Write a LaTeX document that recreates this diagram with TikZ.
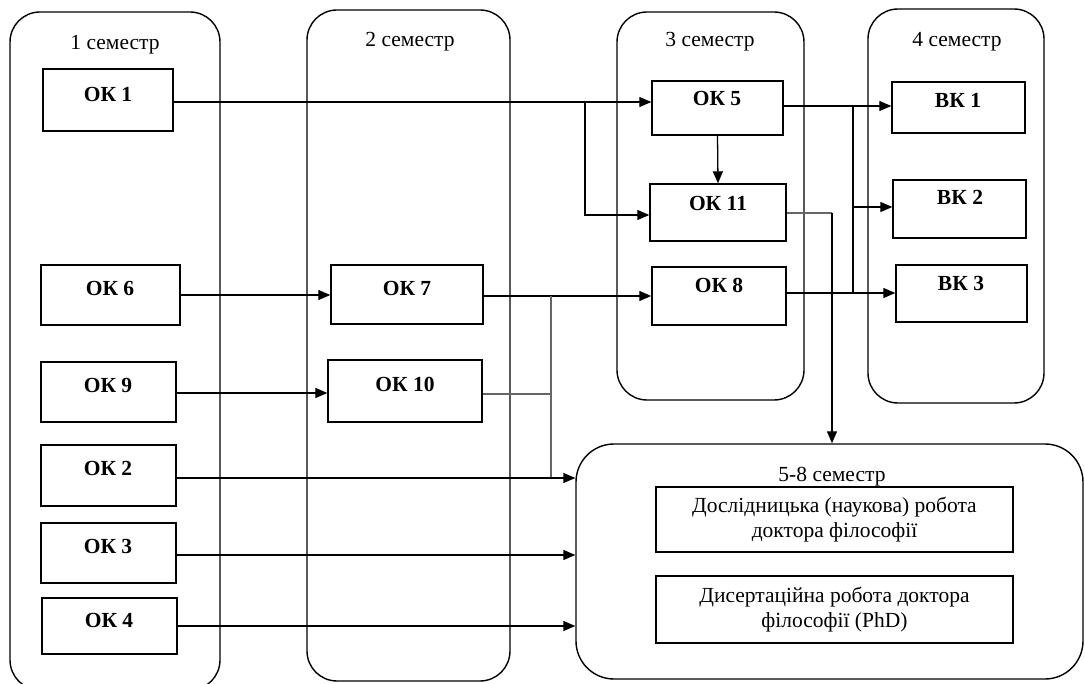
\documentclass[tikz,border=0pt]{standalone}
\usepackage{fontspec}
\setmainfont{Liberation Serif}
\usetikzlibrary{arrows.meta}
\begin{document}
\begin{tikzpicture}[x=1pt,y=-1pt,
  col/.style={draw, line width=1.4pt, rounded corners=30pt, inner sep=0pt},
  box/.style={draw, line width=1.4pt, inner sep=0pt},
  lbl/.style={anchor=base, inner sep=0pt, font=\fontsize{21.5}{25}\selectfont\bfseries},
  ttl/.style={anchor=base, inner sep=0pt, font=\fontsize{21.5}{25}\selectfont},
  txtbox/.style={box, align=center, font=\fontsize{21.5}{25}\selectfont},
  arr/.style={line width=1.3pt, -{Triangle[length=12pt,width=10pt]}},
  ln/.style={line width=1.3pt},
  gln/.style={line width=1.2pt, draw=black!60},
]
\useasboundingbox (0,0) rectangle (1085,684);

% semester columns
\node[col, minimum width=210, minimum height=678] (s1) at (115,351) {};
\node[col, minimum width=203, minimum height=671] (s2) at (408.5,345.5) {};
\node[col, minimum width=187, minimum height=388] (s3) at (710.5,206) {};
\node[col, minimum width=176, minimum height=394] (s4) at (956,206) {};
\node[col, rounded corners=38pt, minimum width=507, minimum height=235] (s58) at (829.5,561.5) {};

\node[ttl] (t1) at (115,50) {1 семестр};
\node[ttl] (t2) at (410,47) {2 семестр};
\node[ttl] (t3) at (710,47) {3 семестр};
\node[ttl] (t4) at (957,47) {4 семестр};
\node[ttl] (t58) at (832,482) {5-8 семестр};

% boxes
\node[box, minimum width=130, minimum height=62] (ok1) at (108,100) {};
\node[box, minimum width=139, minimum height=60] (ok6) at (110.5,295) {};
\node[box, minimum width=135, minimum height=60] (ok9) at (108.5,392) {};
\node[box, minimum width=135, minimum height=61] (ok2) at (108.5,475.5) {};
\node[box, minimum width=135, minimum height=60] (ok3) at (108.5,553) {};
\node[box, minimum width=135, minimum height=56] (ok4) at (109.5,626) {};
\node[box, minimum width=152, minimum height=59] (ok7) at (407,294.5) {};
\node[box, minimum width=154, minimum height=62] (ok10) at (405,391) {};
\node[box, minimum width=131, minimum height=54] (ok5) at (717.5,108) {};
\node[box, minimum width=136, minimum height=57] (ok11) at (718,212.5) {};
\node[box, minimum width=134, minimum height=58] (ok8) at (719,296) {};
\node[box, minimum width=133, minimum height=51] (vk1) at (958.5,107.5) {};
\node[box, minimum width=133, minimum height=58] (vk2) at (959.5,209) {};
\node[box, minimum width=131, minimum height=57] (vk3) at (961.5,293.5) {};
\node[txtbox, minimum width=357, minimum height=65] (d1) at (834.5,519.5) {Дослідницька (наукова) робота\\доктора філософії};
\node[txtbox, minimum width=357, minimum height=67] (d2) at (834.5,609.5) {Дисертаційна робота доктора\\філософії (PhD)};

% box labels
\node[lbl] at (108,102) {ОК 1};
\node[lbl] at (110,296) {ОК 6};
\node[lbl] at (108,393) {ОК 9};
\node[lbl] at (108,476) {ОК 2};
\node[lbl] at (108,553) {ОК 3};
\node[lbl] at (109,627) {ОК 4};
\node[lbl] at (407,296) {ОК 7};
\node[lbl] at (405,392) {ОК 10};
\node[lbl] at (717,106) {ОК 5};
\node[lbl] at (718,211) {ОК 11};
\node[lbl] at (719,293) {ОК 8};
\node[lbl] at (958,108) {ВК 1};
\node[lbl] at (960,205) {ВК 2};
\node[lbl] at (961,291) {ВК 3};

% junction points
\coordinate (j1) at (585,102);
\coordinate (j2) at (853,106);
\coordinate (j3) at (853,293);
\coordinate (j4) at (551,296);
\coordinate (j5) at (551,478);
\coordinate (j6) at (832,213);

% connectors
\draw[arr] (ok1.east |- j1) -- (ok5.west |- j1);
\draw[arr] (j1) |- (ok11.west |- 0,215);
\draw[arr] (ok5.south) -- (ok11.north);
\draw[arr] (ok5.east |- j2) -- (vk1.west |- j2);
\draw[ln] (j2) -- (j3);
\draw[arr] (j2 |- 0,207) -- (vk2.west |- 0,207);
\draw[arr] (ok8.east |- j3) -- (vk3.west |- j3);
\draw[gln] (ok11.east |- j6) -- (j6);
\draw[arr] (j6) -- (j6 |- s58.north);
\draw[arr] (ok6.east |- 0,295) -- (ok7.west |- 0,295);
\draw[arr] (ok9.east |- 0,393) -- (ok10.west |- 0,393);
\draw[arr] (ok7.east |- j4) -- (ok8.west |- j4);
\draw[gln] (j4) -- (j5);
\draw[gln] (ok10.east |- 0,394) -- (j5 |- 0,394);
\draw[arr] (ok2.east |- j5) -- (s58.west |- j5);
\draw[arr] (ok3.east |- 0,555) -- (s58.west |- 0,555);
\draw[arr] (ok4.east |- 0,626) -- (s58.west |- 0,626);
\end{tikzpicture}
\end{document}
